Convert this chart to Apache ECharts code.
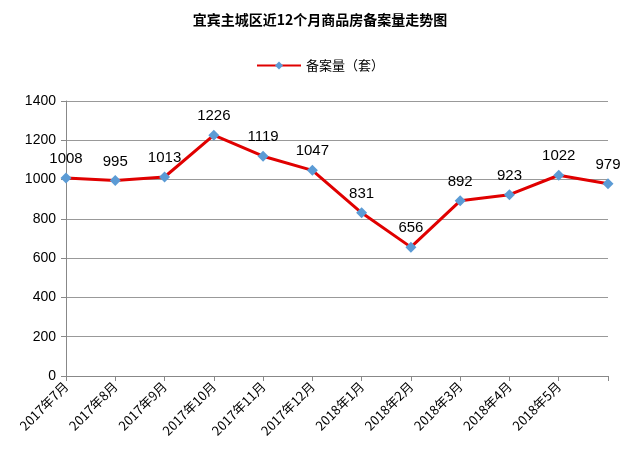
<!DOCTYPE html>
<html><head><meta charset="utf-8">
<script src="https://cdn.jsdelivr.net/npm/echarts@6/dist/echarts.min.js"></script>
<style>body{margin:0;background:#fff}#c{width:640px;height:476px}</style></head>
<body><div id="c"></div>
<script>
const categories=['2017年7月','2017年8月','2017年9月','2017年10月','2017年11月','2017年12月','2018年1月','2018年2月','2018年3月','2018年4月','2018年5月','2018年6月'];
const values=[1008,995,1013,1226,1119,1047,831,656,892,923,1022,979];
const seriesName='备案量（套）';
const chart=echarts.init(document.getElementById('c'));
chart.setOption({
  backgroundColor:'#fff',
  title:{text:'宜宾主城区近12个月商品房备案量走势图',left:'center',top:8,textStyle:{fontSize:14,fontWeight:'bold',color:'#000',fontFamily:'Noto Sans CJK SC'}},
  legend:{top:54,left:'center',itemWidth:44,itemHeight:10,textStyle:{fontSize:13,color:'#000',fontFamily:'Noto Sans CJK SC'},data:[seriesName]},
  grid:{left:66,right:32,top:101,bottom:100},
  xAxis:{type:'category',data:categories,boundaryGap:false,
    axisLine:{lineStyle:{color:'#888'}},axisTick:{show:true,lineStyle:{color:'#888'}},
    axisLabel:{rotate:45,fontSize:13,color:'#000',interval:0,margin:8,fontFamily:'Noto Sans CJK SC',
      formatter:(v,i)=>i===11?'':v}},
  yAxis:{type:'value',min:0,max:1400,interval:200,
    axisLine:{show:true,lineStyle:{color:'#888'}},axisTick:{show:true,lineStyle:{color:'#888'}},
    splitLine:{lineStyle:{color:'#999'}},axisLabel:{fontSize:14,color:'#000',margin:10,formatter:v=>String(v)}},
  series:[{name:seriesName,type:'line',data:values,symbol:'diamond',symbolSize:11,
    lineStyle:{color:'#e00000',width:3},itemStyle:{color:'#5b9bd5'},
    label:{show:true,position:'top',distance:6,fontSize:15,color:'#000'}}]
});
</script></body></html>
